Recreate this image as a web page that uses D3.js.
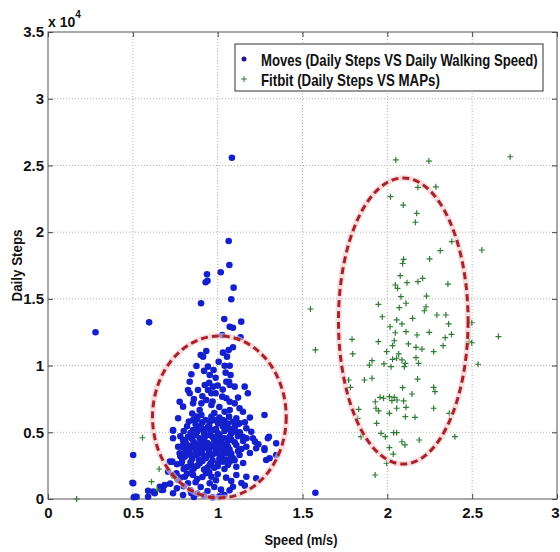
<!DOCTYPE html>
<html lang="en">
<head>
    <meta charset="UTF-8">
    <script src="https://d3js.org/d3.v7.min.js" charset="utf-8"></script>
    <title>Daily Steps vs Speed</title>
    <style>
        body { margin: 0; background: white; }
        text { font-family: "Liberation Sans Narrow", "Arial Narrow", "Liberation Sans", Arial, sans-serif; font-weight: bold; fill: #111; }
    </style>
</head>
<body>
<div id="chart"></div>

<script>
    // Moves: [speed (m/s), daily steps]
    const movesPoints = [
        [1.084,25580],[1.065,19340],[1.069,17540],[1.018,16990],[0.937,16840],[0.929,16240],[0.94,16350],
        [1.094,15840],[1.08,14970],[0.902,14670],[0.596,13240],[0.28,12500],[1.139,13290],[1.039,13490],
        [1.071,12910],[1.09,12840],[1.135,12120],[1.027,12290],[1.09,11370],[0.933,11090],[1.065,11170],
        [1.031,10970],[0.9,10790],[0.914,10670],[1.055,10670],[1.006,10290],[0.875,9970],[0.943,9920],
        [1.041,9990],[1.071,9990],[0.976,9670],[1.047,9470],[0.845,9350],[1.076,9290],[0.988,9090],[0.953,9290],
        [1.051,8790],[1.067,8790],[0.835,8790],[0.924,8540],[0.973,8420],[0.825,8170],[0.835,7920],[0.884,8170],
        [0.943,8170],[0.963,7920],[0.988,7920],[1.071,8540],[1.1,8420],[1.159,8420],[1.178,7920],[1.027,7670],
        [1.051,7550],[1.071,7290],[1.1,7170],[0.776,7290],[0.796,6920],[0.855,7170],[0.904,7170],[0.933,7420],
        [0.963,7050],[0.894,6670],[1.129,6800],[1.149,6540],[1.071,6670],[1.041,6540],[0.855,5920],[0.875,6170],
        [0.904,6300],[0.929,5920],[0.767,6050],[0.963,6170],[0.982,5920],[1.002,5670],[1.031,5920],[1.067,6170],
        [1.11,6050],[1.09,5790],[1.129,5670],[1.276,6300],[1.169,5300],[0.737,5170],[0.855,5170],[0.884,5300],
        [0.914,5170],[0.943,5420],[0.973,5170],[1.061,5300],[1.08,5170],[1.11,5040],[1.198,5040],[1.208,4550],
        [0.737,4550],[0.796,4420],[0.825,4670],[0.865,4800],[0.894,4550],[0.924,4670],[0.953,4800],[0.982,4550],
        [1.012,4800],[1.041,4550],[1.071,4670],[1.149,4670],[1.302,4670],[0.767,3920],[0.796,4050],[0.825,3800],
        [0.855,4050],[0.884,3920],[0.914,4050],[0.943,3800],[0.973,3920],[1.002,3800],[1.031,4050],[1.061,3920],
        [1.11,4050],[1.169,3920],[1.227,3800],[1.276,3800],[1.345,4170],[0.776,3430],[0.806,3170],[0.835,3430],
        [0.875,3300],[0.904,3430],[0.933,3170],[0.963,3300],[0.992,3430],[1.022,3170],[1.051,3430],[1.08,3170],
        [1.129,3300],[1.306,3050],[1.345,3300],[0.718,2800],[0.786,2680],[0.845,2550],[0.894,2680],[0.953,2550],
        [1.002,2680],[1.071,2800],[1.11,2420],[0.708,2050],[0.757,1930],[0.806,1670],[0.855,1800],[0.933,1930],
        [0.963,1670],[1.11,1800],[1.169,1670],[0.767,1420],[0.825,1180],[0.953,1180],[1.09,920],[0.659,920],
        [0.62,550],[0.678,670],[0.737,430],[0.796,300],[0.845,430],[0.59,170],[0.512,170],[0.502,1180],
        [0.502,3300],[1.286,2920],[1.227,1550],[0.498,1220],[0.506,130],[0.522,170],[0.59,620],[0.629,430],
        [0.688,1050],[0.669,670],[0.737,5120],[0.733,2800],[1.296,4550],[1.276,3670],[1.576,470],
        [0.82,5450],[0.87,5600],[0.91,5750],[0.95,5500],[0.99,5250],[1.03,5450],[1.06,5650],[1.1,5400],
        [0.84,4950],[0.88,5050],[0.92,4900],[0.96,5100],[1.0,4950],[1.04,5100],[1.08,4900],[1.13,5000],
        [0.81,4300],[0.86,4250],[0.9,4350],[0.94,4200],[0.98,4350],[1.02,4250],[1.06,4350],[1.1,4250],
        [1.15,4350],[0.83,3650],[0.87,3600],[0.91,3700],[0.95,3550],[0.99,3650],[1.03,3600],[1.07,3700],
        [1.12,3600],[0.85,3000],[0.89,2950],[0.93,3050],[0.97,2900],[1.01,3000],[1.05,2950],[1.09,3050],
        [0.8,2250],[0.86,2300],[0.92,2200],[0.98,2350],[1.04,2250],[0.88,1500],[0.99,1400],[0.9,900],
        [1.02,700],[0.94,600],[0.86,150],[0.97,120],[1.04,300],
        [0.78,4700],[0.8,5100],[0.83,5800],[0.85,6400],[0.88,6000],[0.9,5450],[0.93,5250],[0.96,5850],
        [0.98,6450],[1.01,6100],[1.04,5800],[1.07,5250],[1.12,5600],[1.16,5750],[1.19,6100],
        [0.79,3900],[0.82,4050],[0.85,4500],[0.87,4850],[0.89,4100],[0.92,4450],[0.95,4050],[0.97,4650],
        [1.0,4250],[1.02,4600],[1.05,4000],[1.08,4450],[1.12,4700],[1.17,4550],[1.22,4300],
        [0.78,3200],[0.81,3550],[0.84,3300],[0.86,3850],[0.89,3500],[0.92,3250],[0.94,3900],[0.97,3350],
        [1.0,3800],[1.02,3350],[1.05,3750],[1.08,3400],[1.14,3750],[1.19,3450],[1.24,4100],
        [0.76,2600],[0.79,2850],[0.82,2400],[0.84,2750],[0.88,2500],[0.91,2850],[0.94,2350],[0.96,2700],
        [1.0,2450],[1.03,2800],[1.06,2550],[1.1,2900],[1.15,2700],
        [0.74,1800],[0.78,1600],[0.82,1900],[0.85,2050],[0.87,1250],[0.91,1650],[0.95,2000],[1.0,1850],
        [1.05,1600],[1.08,1350],[1.14,1200],
        [0.72,1150],[0.76,800],[0.8,950],[0.84,650],[0.88,400],[0.92,250],[0.98,900],[1.01,200],
        [1.07,650],[1.16,1000],
        [0.86,7500],[0.91,7700],[0.97,7300],[1.01,6900],[1.03,8200],[0.95,8700],[1.12,7600],[0.92,9600],[1.0,8500]
    ];

    // Fitbit: [MAPs speed, daily steps]
    const fitbitPoints = [
        [2.05,25410],[2.245,25330],[2.724,25650],[2.18,23360],[2.286,23400],[2.018,22660],[2.094,22030],
        [2.173,21410],[2.165,20740],[2.38,19290],[2.312,18610],[2.557,18660],[2.096,17960],[2.09,17650],
        [2.249,17990],[2.076,16740],[2.047,16040],[2.06,15790],[2.116,16210],[2.18,16290],[2.208,16540],
        [2.357,16110],[2.08,15160],[2.231,15210],[1.547,14240],[1.947,14590],[2.07,14340],[2.11,14670],
        [2.228,14410],[2.218,14110],[2.292,13790],[2.345,13790],[1.97,13660],[2.149,13540],[2.055,13420],
        [2.086,13120],[2.498,13210],[2.016,12910],[2.361,13120],[2.047,12460],[2.11,12540],[2.175,12290],
        [2.247,12490],[2.378,12340],[2.341,12090],[1.792,11970],[1.947,11790],[2.041,11860],[2.498,11710],
        [1.576,11170],[2.031,11490],[2.124,11620],[2.169,11370],[2.204,11240],[2.273,11040],[2.329,11490],
        [1.796,10870],[1.996,11040],[2.067,10870],[2.055,10550],[2.086,10420],[2.106,10170],[2.1,9920],
        [2.031,10470],[2.169,10590],[2.184,10170],[1.91,10370],[1.894,10040],[1.98,10120],[2.022,9920],
        [2.535,10100],[2.655,12170],[1.772,8920],[1.782,8370],[1.865,8920],[1.91,9050],[2.178,8990],
        [2.273,8370],[2.281,8040],[2.09,8340],[1.957,7620],[1.978,7550],[2.012,7670],[2.041,7620],
        [2.057,7420],[2.027,7370],[2.096,7350],[2.145,7870],[1.929,7290],[1.933,6800],[1.949,6600],
        [1.831,6720],[2.055,6800],[2.11,6870],[2.012,6420],[2.273,6800],[2.365,6420],[2.106,6170],
        [2.163,6120],[1.825,6050],[1.937,5670],[1.963,4920],[2.037,4970],[2.055,4970],[1.845,4670],
        [1.988,4670],[2.188,4420],[2.398,4670],[2.086,4290],[2.104,4050],[2.012,3850],[2.035,3370],
        [1.996,2680],[1.928,1800],[2.482,11790],
        [0.557,4590],[0.655,2250],[0.61,1300],[0.645,730],[0.169,0],[0.747,1550]
    ];

    // highlight ellipses: [centre speed, centre steps, radius speed, radius steps]
    const ellipses = [
        [1.01, 6150, 0.394, 6070],
        [2.094, 13340, 0.382, 10720]
    ];

    const xTicks = [0, 0.5, 1, 1.5, 2, 2.5, 3];
    const yTicks = [0, 5000, 10000, 15000, 20000, 25000, 30000, 35000];
    const legendLabels = ["Moves (Daily Steps VS Daily Walking Speed)", "Fitbit (Daily Steps VS MAPs)"];

    const width = 560;
    const height = 552;
    const margin = {top: 32, right: 3, bottom: 53, left: 48};

    const blue = "#1420cc";
    const green = "#2f7d34";
    const red = "#a8222c";

    const svg = d3.select("#chart").append("svg")
        .attr("width", width)
        .attr("height", height);

    const x = d3.scaleLinear().domain([0, 3]).range([margin.left, width - margin.right]);
    const y = d3.scaleLinear().domain([0, 35000]).range([height - margin.bottom, margin.top]);

    // squeeze a text horizontally so it keeps the narrow look of the original
    function squeeze(sel, target) {
        const w = sel.node().getComputedTextLength();
        return w > target ? target / w : 1;
    }

    // grid
    svg.append("g").selectAll("line")
        .data(xTicks.slice(1, -1))
        .join("line")
        .attr("x1", d => x(d)).attr("x2", d => x(d))
        .attr("y1", y(0)).attr("y2", y(35000))
        .attr("stroke", "#b0b0b0").attr("stroke-dasharray", "1,2");
    svg.append("g").selectAll("line")
        .data(yTicks.slice(1, -1))
        .join("line")
        .attr("x1", x(0)).attr("x2", x(3))
        .attr("y1", d => y(d)).attr("y2", d => y(d))
        .attr("stroke", "#b0b0b0").attr("stroke-dasharray", "1,2");

    // axes with inward ticks
    const xAxis = svg.append("g")
        .attr("transform", `translate(0,${y(0)})`)
        .call(d3.axisBottom(x).tickValues(xTicks).tickFormat(d3.format("~g")).tickSizeInner(-5).tickSizeOuter(0));
    xAxis.selectAll("text").attr("dy", "0").attr("y", 19).style("font-size", "15px");
    // last label is cut by the window edge in the original too; keep it inside
    xAxis.selectAll("text").filter(d => d === 3).attr("text-anchor", "end").attr("dx", 2);

    const yAxis = svg.append("g")
        .attr("transform", `translate(${x(0)},0)`)
        .call(d3.axisLeft(y).tickValues(yTicks).tickFormat(d => d / 1e4).tickSizeInner(-5).tickSizeOuter(0).tickPadding(4));
    yAxis.selectAll("text").style("font-size", "15px");

    svg.append("g")
        .attr("transform", `translate(0,${y(35000)})`)
        .call(d3.axisTop(x).tickValues(xTicks).tickFormat("").tickSizeInner(-5).tickSizeOuter(0));
    svg.append("g")
        .attr("transform", `translate(${x(3)},0)`)
        .call(d3.axisRight(y).tickValues(yTicks).tickFormat("").tickSizeInner(-5).tickSizeOuter(0));

    svg.selectAll(".domain").remove();
    svg.selectAll(".tick line").attr("stroke", "#444");

    svg.append("rect")
        .attr("x", x(0)).attr("y", y(35000))
        .attr("width", x(3) - x(0)).attr("height", y(0) - y(35000))
        .attr("fill", "none").attr("stroke", "#555");

    // Moves dots
    svg.append("g").selectAll("circle")
        .data(movesPoints)
        .join("circle")
        .attr("cx", d => x(d[0]))
        .attr("cy", d => y(d[1]))
        .attr("r", 3.3)
        .attr("fill", blue);

    // Fitbit plus markers
    const plus = "M-3,0H3M0,-3V3";
    svg.append("g").selectAll("path")
        .data(fitbitPoints)
        .join("path")
        .attr("transform", d => `translate(${x(d[0])},${y(d[1])})`)
        .attr("d", plus)
        .attr("stroke", green)
        .attr("stroke-width", 1.2)
        .attr("fill", "none");

    // dashed ellipses
    const eg = svg.append("g");
    ellipses.forEach(e => {
        const cx = x(e[0]), cy = y(e[1]);
        const rx = x(e[0] + e[2]) - cx, ry = cy - y(e[1] + e[3]);
        eg.append("ellipse")
            .attr("cx", cx).attr("cy", cy).attr("rx", rx).attr("ry", ry)
            .attr("fill", "none").attr("stroke", "#f3c6c6").attr("stroke-width", 6).attr("opacity", 0.6);
        eg.append("ellipse")
            .attr("cx", cx).attr("cy", cy).attr("rx", rx).attr("ry", ry)
            .attr("fill", "none").attr("stroke", red).attr("stroke-width", 3)
            .attr("stroke-dasharray", "7,4");
    });

    // exponent label
    const expo = svg.append("text").attr("x", x(0)).attr("y", 27).style("font-size", "14px");
    expo.append("tspan").text("x 10");
    expo.append("tspan").attr("dy", -9).style("font-size", "10px").text("4");

    // axis titles
    const xTitle = svg.append("text")
        .attr("text-anchor", "middle")
        .style("font-size", "15px")
        .text("Speed (m/s)");
    xTitle.attr("transform", `translate(301,545) scale(${squeeze(xTitle, 73)},1)`);

    const yTitle = svg.append("text")
        .attr("text-anchor", "middle")
        .style("font-size", "15px")
        .text("Daily Steps");
    yTitle.attr("transform", `translate(22,${(y(0) + y(35000)) / 2}) rotate(-90) scale(${squeeze(yTitle, 72)},1)`);

    // legend
    const legend = svg.append("g");
    legend.append("rect")
        .attr("x", 235).attr("y", 44).attr("width", 308).attr("height", 47)
        .attr("fill", "white").attr("stroke", "#333");
    const legendWidths = [277, 179];
    legendLabels.forEach((label, i) => {
        const ly = 66 + i * 20;
        const t = legend.append("text")
            .style("font-size", "16px")
            .text(label);
        t.attr("transform", `translate(261,${ly}) scale(${squeeze(t, legendWidths[i])},1)`);
    });
    legend.append("circle").attr("cx", 244).attr("cy", 59).attr("r", 2.5).attr("fill", "#1a1a8a");
    legend.append("path").attr("transform", "translate(244,79)").attr("d", plus)
        .attr("stroke", green).attr("stroke-width", 1).attr("fill", "none");
</script>
</body>
</html>
